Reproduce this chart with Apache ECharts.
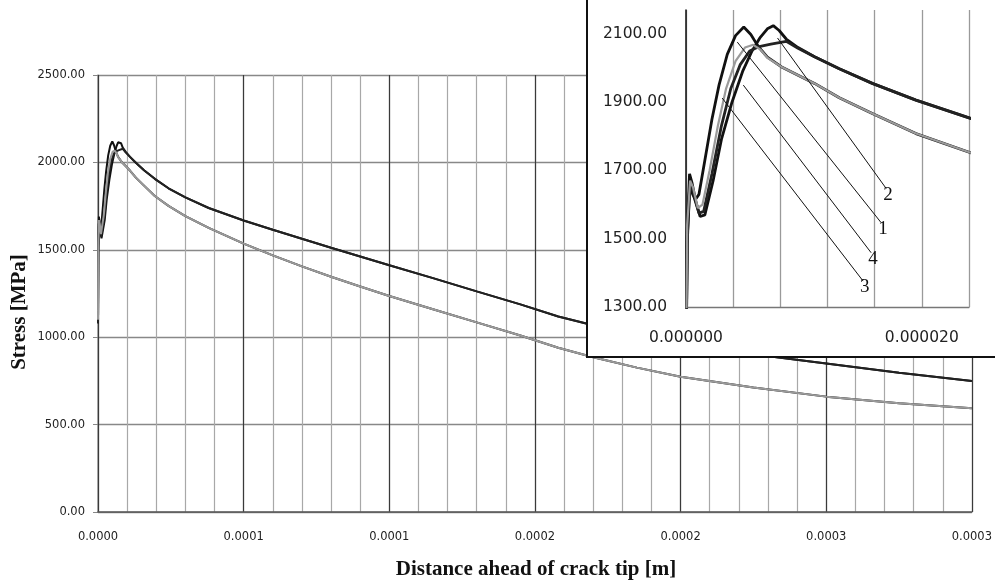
<!DOCTYPE html>
<html>
<head>
<meta charset="utf-8">
<script src="https://cdn.jsdelivr.net/npm/echarts@6.0.0/dist/echarts.min.js"></script>
<style>
html,body{margin:0;padding:0;background:#fff;}
#chart{width:995px;height:581px;}
</style>
</head>
<body>
<div id="chart"></div>
<script>
// ---------- DATA (distance in micrometres, stress in MPa) ----------
const yTickLabels = ['0.00','500.00','1000.00','1500.00','2000.00','2500.00'];
const xTickLabels = ['0.0000','0.0001','0.0001','0.0002','0.0002','0.0003','0.0003'];
const insetYTickLabels = ['1300.00','1500.00','1700.00','1900.00','2100.00'];
const insetXTickLabels = ['0.000000','0.000020'];

// shared far-field paths
const upperTailX = [24.2,30,38,50,60,70,80,90,100,115,130,145,158,170,185,200,215,233,250,275,300];
const upperTailY = [1852,1800,1739,1668,1615,1563,1512,1462,1412,1338,1262,1188,1118,1068,1010,965,925,885,850,797,749];
const lowerTailX = [24.2,30,38,50,60,70,80,90,100,115,130,145,158,170,185,200,225,250,275,300];
const lowerTailY = [1751,1693,1625,1535,1468,1405,1346,1290,1236,1160,1085,1010,940,885,826,774,712,660,622,593];

// near-tip parts of the four curves
const c1X = [0,0.1,0.3,0.5,0.8,1.1,1.6,2.2,2.8,3.5,4.2,4.9,5.5,6.0,6.4,6.9,8.07,10.9,13,15.8,19.5];
const c1Y = [1090,1520,1690,1665,1615,1630,1730,1850,1950,2040,2095,2120,2098,2070,2052,2032,2004,1955,1913,1867,1808];
const c2X = [0,0.1,0.3,0.7,1.2,1.6,2.3,3.0,3.9,4.8,5.6,6.3,6.9,7.4,7.9,8.5,9.5,10.9,13,15.8,19.5];
const c2Y = [1080,1480,1650,1620,1565,1570,1670,1790,1900,1990,2050,2090,2115,2124,2110,2085,2060,2033,1998,1955,1906];
const c3X = [0,0.1,0.35,0.6,1.1,1.5,2.2,3.0,3.8,4.6,5.4,6.2,7.2,8.5,9.5,10.9,13,15.8,19.5];
const c3Y = [1080,1500,1660,1640,1575,1580,1690,1830,1940,2010,2050,2063,2070,2078,2058,2033,1998,1955,1906];
const c4X = [0,0.1,0.35,0.6,1.0,1.4,2.0,2.7,3.4,4.2,5.0,5.7,6.35,6.9,8.07,10.9,13,15.8,19.5];
const c4Y = [1100,1540,1670,1650,1590,1600,1700,1830,1940,2020,2060,2068,2053,2030,2004,1955,1913,1867,1808];

// inset annotation leader lines [x1,y1,x2,y2] (µm, MPa) and their labels
const leaderNames = ['2','1','4','3'];
const leaderLines = [
  [7.76,2088,16.98,1647],
  [4.35,2076,16.55,1547],
  [4.86,1950,15.70,1459],
  [3.07,1912,15.02,1376]
];

// ---------- BUILD ----------
const UM = 1e-6;
function curve(nx, ny, tx, ty){
  const out = [];
  nx.forEach((x,i)=>out.push([x*UM, ny[i]]));
  tx.forEach((x,i)=>out.push([x*UM, ty[i]]));
  return out;
}
const curves = [
  {name:'1', data: curve(c1X,c1Y,lowerTailX,lowerTailY), color:'#111', gray:false},
  {name:'2', data: curve(c2X,c2Y,upperTailX,upperTailY), color:'#111', gray:false},
  {name:'3', data: curve(c3X,c3Y,upperTailX,upperTailY), color:'#222', gray:false},
  {name:'4', data: curve(c4X,c4Y,lowerTailX,lowerTailY), color:'#9a9a9a', gray:true}
];

function pickLabel(v, step, base, arr){
  const k = (v - base) / step;
  const r = Math.round(k);
  if (Math.abs(k - r) < 1e-6 && r >= 0 && r < arr.length) return arr[r];
  return '';
}

const numFont = '"DejaVu Sans"';
const series = [];
curves.forEach(c=>{
  series.push({
    type:'line', name:c.name, xAxisIndex:0, yAxisIndex:0, data:c.data,
    showSymbol:false, symbol:'none', z:2,
    lineStyle:{color:c.color, width:2}
  });
});
// inset horizontal grid lines
series.push({
  type:'line', xAxisIndex:2, yAxisIndex:1, data:[], z:20, symbol:'none',
  markLine:{
    silent:true, symbol:['none','none'], label:{show:false}, animation:false,
    lineStyle:{color:'#8a8a8a', width:1.3, type:'solid'},
    data:[1300,1500,1700,1900,2100].map(v=>({yAxis:v}))
  }
});
curves.forEach(c=>{
  series.push({
    type:'line', name:'inset'+c.name, xAxisIndex:2, yAxisIndex:1, data:c.data,
    showSymbol:false, symbol:'none', z:22, clip:true,
    lineStyle:{color:c.color, width:c.gray?2.2:2.8}
  });
});
leaderLines.forEach((l,i)=>{
  series.push({
    type:'line', xAxisIndex:2, yAxisIndex:1, z:23, symbol:'none', showSymbol:false,
    data:[[l[0]*UM,l[1]],[l[2]*UM,l[3]]],
    lineStyle:{color:'#111', width:1},
    endLabel:{show:true, formatter:leaderNames[i], distance:0, offset:[-3,6],
      fontFamily:'"Liberation Serif"', fontSize:19, color:'#111'}
  });
});

const option = {
  animation:false,
  backgroundColor:'#fff',
  grid:[
    {left:98, right:22, top:75, bottom:69},
    {left:686, right:26, top:10, bottom:274}
  ],
  xAxis:[
    {gridIndex:0, type:'value', min:0, max:0.0003, interval:0.00001,
     axisLine:{show:false}, axisTick:{show:false}, axisLabel:{show:false},
     splitLine:{show:true, lineStyle:{color:'#a8a8a8', width:1.2}}},
    {gridIndex:0, type:'value', min:0, max:0.0003, interval:0.00005, position:'bottom', z:1,
     axisLine:{show:true, lineStyle:{color:'#555', width:1.5}}, axisTick:{show:false},
     splitLine:{show:true, lineStyle:{color:'#3a3a3a', width:1.2}},
     axisLabel:{margin:19, fontFamily:numFont, fontSize:11.5, color:'#222',
       formatter:v=>pickLabel(v,0.00005,0,xTickLabels)}},
    {gridIndex:1, type:'value', min:0, max:0.000024, interval:0.000004, z:20,
     axisLine:{show:true, lineStyle:{color:'#777', width:1.3}}, axisTick:{show:false},
     splitLine:{show:true, lineStyle:{color:'#9a9a9a', width:1.3}},
     axisLabel:{margin:23, fontFamily:numFont, fontSize:15.5, color:'#222',
       formatter:v=>pickLabel(v,0.00002,0,insetXTickLabels)}}
  ],
  yAxis:[
    {gridIndex:0, type:'value', min:0, max:2500, interval:500,
     axisLine:{show:true, lineStyle:{color:'#999', width:1.5}},
     axisTick:{show:true, length:5, lineStyle:{color:'#888'}},
     splitLine:{show:true, lineStyle:{color:'#888', width:1.3}},
     axisLabel:{margin:13, fontFamily:numFont, fontSize:11.5, color:'#222',
       formatter:v=>pickLabel(v,500,0,yTickLabels)}},
    {gridIndex:1, type:'value', min:1300, max:2170, interval:100, z:20,
     axisLine:{show:true, lineStyle:{color:'#111', width:1.5}},
     axisTick:{show:false}, splitLine:{show:false},
     axisLabel:{margin:19, fontFamily:numFont, fontSize:15.5, color:'#222',
       formatter:v=>(v<=2100 ? pickLabel(v,200,1300,insetYTickLabels) : '')}}
  ],
  graphic:[
    {type:'rect', z:10, silent:true,
     shape:{x:587, y:-5, width:420, height:362},
     style:{fill:'#fff', stroke:'#111', lineWidth:2}},
    {type:'text', z:30, x:536, y:570,
     style:{text:'Distance ahead of crack tip [m]', font:'bold 21px "Liberation Serif"',
       fill:'#111', align:'center', verticalAlign:'middle', textAlign:'center', textVerticalAlign:'middle'}},
    {type:'text', z:30, x:20, y:312, rotation:Math.PI/2,
     style:{text:'Stress [MPa]', font:'bold 21px "Liberation Serif"',
       fill:'#111', align:'center', verticalAlign:'middle', textAlign:'center', textVerticalAlign:'middle'}}
  ],
  series:series
};

const chart = echarts.init(document.getElementById('chart'), null, {renderer:'canvas'});
chart.setOption(option);
</script>
</body>
</html>
